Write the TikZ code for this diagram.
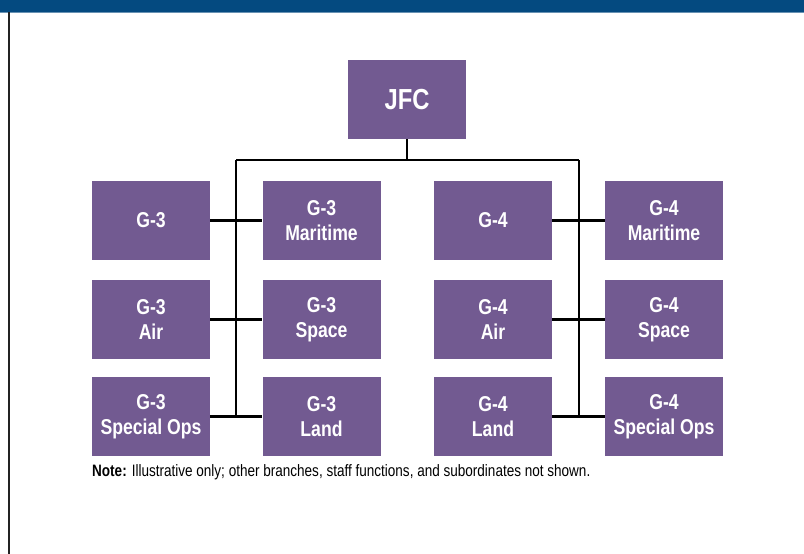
\documentclass[tikz,border=0pt]{standalone}
\usepackage{fontspec}
\newfontfamily\condfont{Liberation Sans}[FakeStretch=0.82]
\definecolor{jpurple}{RGB}{114,90,145}
\definecolor{jblue}{RGB}{4,74,128}
\definecolor{jframe}{RGB}{35,35,35}

\begin{document}
\begin{tikzpicture}[x=1pt,y=-1pt,
    unit/.style={fill=jpurple, text=white, minimum width=118pt, minimum height=79pt,
      inner sep=0pt, align=center, font=\condfont\bfseries\fontsize{21.5}{25}\selectfont},
    link/.style={draw=black, line width=2.8pt}]
    \useasboundingbox (0,0) rectangle (804,554);
    \fill[jblue] (0,0) rectangle (804,12);
    \draw[jblue!60, line width=0.8pt] (0,12.4) -- (804,12.4);
    \draw[jframe, line width=1.6pt] (9,12) -- (9,554);

    \node[unit, font=\condfont\bfseries\fontsize{29}{32}\selectfont] (jfc) at (407,99.5) {JFC};
    \node[unit] (g3) at (151,220.5) {G-3};
    \node[unit] (g3mar) at (321.5,220.5) {G-3\\Maritime};
    \node[unit] (g3air) at (151,319.5) {G-3\\Air};
    \node[unit] (g3spc) at (321.5,319.5) {G-3\\Space};
    \node[unit] (g3sop) at (151,416.5) {G-3\\Special Ops};
    \node[unit] (g3lnd) at (321.5,416.5) {G-3\\Land};
    \node[unit] (g4) at (493,220.5) {G-4};
    \node[unit] (g4mar) at (664,220.5) {G-4\\Maritime};
    \node[unit] (g4air) at (493,319.5) {G-4\\Air};
    \node[unit] (g4spc) at (664,319.5) {G-4\\Space};
    \node[unit] (g4lnd) at (493,416.5) {G-4\\Land};
    \node[unit] (g4sop) at (664,416.5) {G-4\\Special Ops};
    \coordinate (lt) at (236,160);
    \coordinate (rt) at (579,160);

    \draw[link] (jfc) -- (jfc |- lt);
    \draw[link] (lt) -- (rt)
    (lt) -- (lt |- g3sop)
    (rt) -- (rt |- g4sop);
    \draw[link] (g3.east) -- (g3mar.west)
    (g3air.east) -- (g3spc.west)
    (g3sop.east) -- (g3lnd.west)
    (g4.east) -- (g4mar.west)
    (g4air.east) -- (g4spc.west)
    (g4lnd.east) -- (g4sop.west);

    \node[anchor=base west, inner sep=0pt, font=\condfont\fontsize{16.5}{18}\selectfont] (note) at (92,476)
      {\textbf{Note:} Illustrative only; other branches, staff functions, and subordinates not shown.};
  \end{tikzpicture}
\end{document}
